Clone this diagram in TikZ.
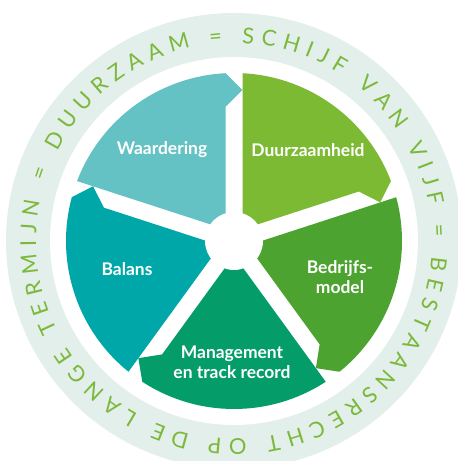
\documentclass[tikz,border=0pt]{standalone}
\usepackage{fontspec}
\setmainfont{Lato}
\usetikzlibrary{decorations.text}

\definecolor{ringbg}{HTML}{E2EFEB}
\definecolor{ringtext}{HTML}{7CB83A}
\definecolor{waardering}{HTML}{64C1C4}
\definecolor{duurzaam}{HTML}{7DBA33}
\definecolor{bedrijf}{HTML}{4DA330}
\definecolor{management}{HTML}{049D6A}
\definecolor{balans}{HTML}{00A7A8}

\newcommand{\ringfont}{\fontsize{22}{22}\selectfont}

\tikzset{
  segtext/.style={text=white, font=\bfseries\fontsize{17.5}{20}\selectfont, align=center},
}

\begin{document}
\begin{tikzpicture}[x=1bp, y=1bp]
                \useasboundingbox (-234,-220) rectangle (224,241);
                % ring
                \fill[ringbg] (0,0) circle[radius=228];
                \fill[white] (0,0) circle[radius=184];
                \path[decorate, decoration={text along path, text align=fit to path, text color=ringtext,
                        text={|\ringfont|DUURZAAM = SCHIJF VAN VIJF = BESTAANSRECHT OP DE LANGE TERMIJN =}}]
                        (153:198) arc[start angle=153, end angle=-201, radius=198];
                % wedges
                \fill[waardering, rotate=90] (11.7,8.5) -- (134,8.5) -- (151,-8.5) -- (2.9:168) arc[start angle=2.9, end angle=69.1, radius=168] -- cycle;
                \fill[duurzaam, rotate=18] (11.7,8.5) -- (134,8.5) -- (151,-8.5) -- (2.9:168) arc[start angle=2.9, end angle=69.1, radius=168] -- cycle;
                \fill[bedrijf, rotate=-54] (11.7,8.5) -- (134,8.5) -- (151,-8.5) -- (2.9:168) arc[start angle=2.9, end angle=69.1, radius=168] -- cycle;
                \fill[management, rotate=-126] (11.7,8.5) -- (134,8.5) -- (151,-8.5) -- (2.9:168) arc[start angle=2.9, end angle=69.1, radius=168] -- cycle;
                \fill[balans, rotate=162] (11.7,8.5) -- (134,8.5) -- (151,-8.5) -- (2.9:168) arc[start angle=2.9, end angle=69.1, radius=168] -- cycle;
                \fill[white] (0,0) circle[radius=29];
                % labels
                \node[segtext] (waardering) at (-72,91) {Waardering};
                \node[segtext] (duurzaamheid) at (74,91) {Duurzaamheid};
                \node[segtext] (bedrijfsmodel) at (106,-36) {Bedrijfs-\\model};
                \node[segtext] (balans) at (-107,-28) {Balans};
                \node[segtext] (management) at (-2,-121) {Management\\en track record};
\end{tikzpicture}
\end{document}
